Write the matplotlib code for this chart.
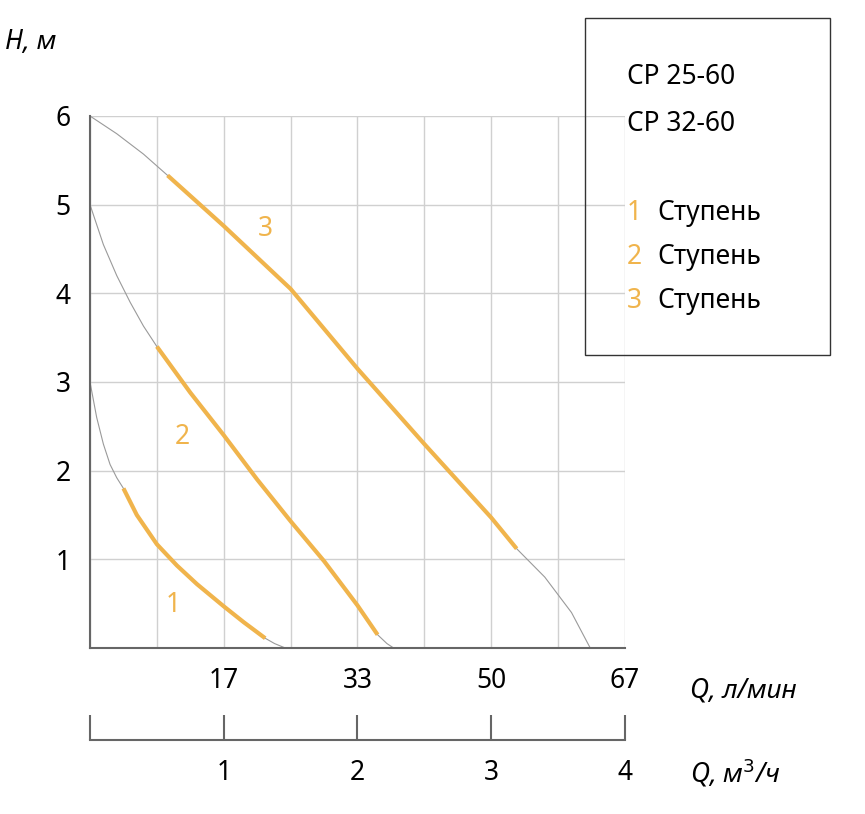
import matplotlib
matplotlib.use("Agg")
import matplotlib.pyplot as plt
from matplotlib.patches import Rectangle

plt.rcParams['font.family'] = ['Noto Sans', 'DejaVu Sans']

# curve data (Q in m3/h, H in m): grey head, orange working range, grey tail
c1_head_q = [0.0, 0.05, 0.1, 0.15, 0.2]
c1_head_h = [3.0, 2.6, 2.3, 2.07, 1.92]
c1_q = [0.25, 0.35, 0.5, 0.65, 0.8, 1.0, 1.15, 1.31]
c1_h = [1.8, 1.5, 1.17, 0.93, 0.72, 0.47, 0.29, 0.11]
c1_tail_q = [1.38, 1.46]
c1_tail_h = [0.05, 0.0]

c2_head_q = [0.0, 0.1, 0.2, 0.3, 0.4]
c2_head_h = [5.0, 4.55, 4.2, 3.9, 3.63]
c2_q = [0.5, 0.75, 1.0, 1.25, 1.5, 1.75, 2.0, 2.15]
c2_h = [3.4, 2.88, 2.4, 1.9, 1.43, 0.98, 0.48, 0.15]
c2_tail_q = [2.22, 2.27]
c2_tail_h = [0.05, 0.0]

c3_head_q = [0.0, 0.2, 0.4]
c3_head_h = [6.0, 5.8, 5.57]
c3_q = [0.58, 1.0, 1.5, 2.0, 2.5, 3.0, 3.19]
c3_h = [5.33, 4.76, 4.05, 3.15, 2.3, 1.47, 1.12]
c3_tail_q = [3.4, 3.6, 3.74]
c3_tail_h = [0.8, 0.4, 0.0]

label_pos = [(0.62, 0.48, "1"), (0.69, 2.38, "2"), (1.31, 4.72, "3")]
top_labels = ["17", "33", "50", "67"]
bottom_labels = ["1", "2", "3", "4"]
legend_lines = ["1", "2", "3"]

orange = "#F0B44C"
grey = "#9a9a9a"
fs = 19

fig = plt.figure(figsize=(8.65, 8.14), dpi=100)
ax = fig.add_axes([90/865, 166/814, 535/865, 532/814])
ax.set_xlim(0, 4)
ax.set_ylim(0, 6)
ax.set_xticks([i*0.5 for i in range(9)])
ax.set_yticks(range(7))
ax.grid(True, color="#d0d0d0", lw=1)
ax.set_axisbelow(True)
for s in ['top', 'right']:
    ax.spines[s].set_visible(False)
for s in ['left', 'bottom']:
    ax.spines[s].set_color("#666666")
    ax.spines[s].set_linewidth(1.5)
ax.tick_params(length=0, labelsize=fs, pad=14)
ax.set_yticklabels(["", "1", "2", "3", "4", "5", "6"])
ax.set_xticklabels(["", "", top_labels[0], "", top_labels[1], "", top_labels[2], "", top_labels[3]])

for hq, hh, q, h, tq, th in [(c1_head_q, c1_head_h, c1_q, c1_h, c1_tail_q, c1_tail_h),
                             (c2_head_q, c2_head_h, c2_q, c2_h, c2_tail_q, c2_tail_h),
                             (c3_head_q, c3_head_h, c3_q, c3_h, c3_tail_q, c3_tail_h)]:
    ax.plot(hq + q + tq, hh + h + th, color=grey, lw=0.8, clip_on=False)
    ax.plot(q, h, color=orange, lw=3, solid_capstyle='butt')
for x, y, t in label_pos:
    ax.text(x, y, t, color=orange, fontsize=fs, fontweight='bold', ha='center', va='center')

fig.text(5/865, 1-42/814, "H, м", fontsize=fs, style='italic', va='center')
fig.text(690/865, 1-690/814, "Q, л/мин", fontsize=fs, style='italic', va='center')
fig.text(690/865, 1-773/814, "Q, м$^3$/ч", fontsize=fs, style='italic', va='center')

ax2 = fig.add_axes([90/865, 74/814, 535/865, 0.001])
ax2.set_xlim(0, 4)
ax2.set_yticks([])
for s in ['top', 'right', 'left']:
    ax2.spines[s].set_visible(False)
ax2.spines['bottom'].set_color("#666666")
ax2.spines['bottom'].set_linewidth(1.5)
ax2.set_xticks([0, 1, 2, 3, 4])
ax2.set_xticklabels([""] + bottom_labels)
ax2.tick_params(axis='x', direction='in', length=18, width=1.5, color="#666666",
                labelsize=fs, pad=14)
ax2.patch.set_visible(False)

fig.patches.append(Rectangle((585/865, 1-355/814), 245/865, 337/814,
                             transform=fig.transFigure, fill=False, ec="#333333", lw=1))
fig.text(627/865, 1-77/814, "CP 25-60", fontsize=fs, va='center')
fig.text(627/865, 1-124/814, "CP 32-60", fontsize=fs, va='center')
for i, n in enumerate(legend_lines):
    y = 1-(213+44*i)/814
    fig.text(627/865, y, n, fontsize=fs, color=orange, fontweight='bold', va='center')
    fig.text(657/865, y, "Ступень", fontsize=fs, va='center')

fig.savefig("out.png", dpi=100)
